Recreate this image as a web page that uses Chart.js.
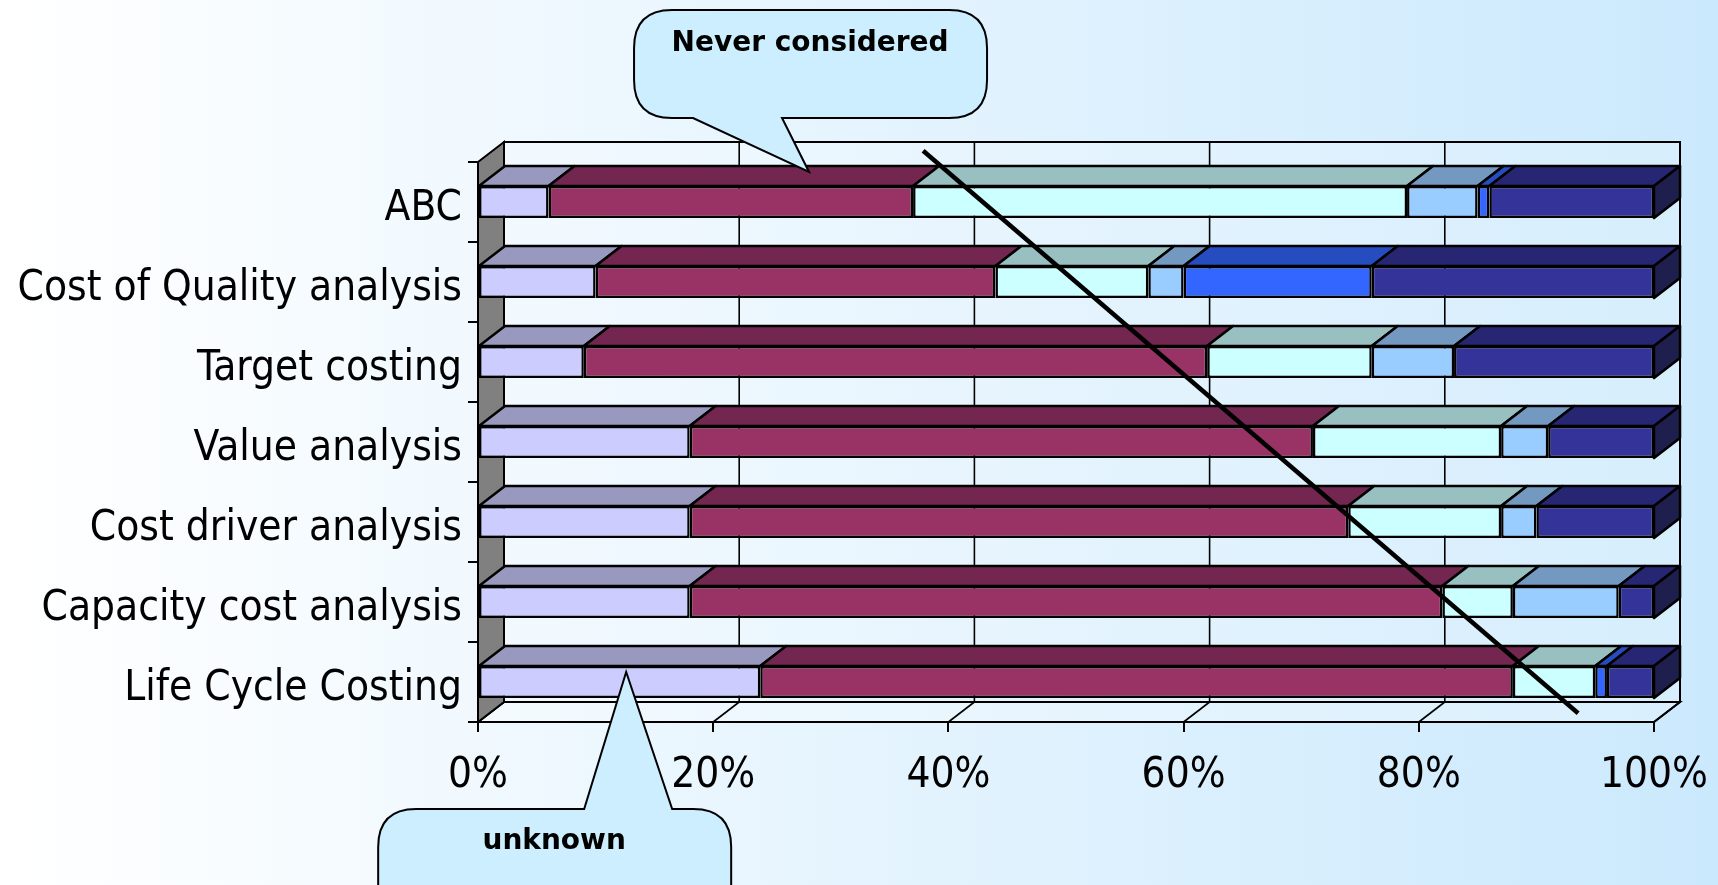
<!DOCTYPE html>
<html>
<head>
<meta charset="utf-8">
<script src="https://cdn.jsdelivr.net/npm/chart.js@4.4.0/dist/chart.umd.min.js"></script>
<style>
  html, body { margin: 0; padding: 0; overflow: hidden; }
  body { width: 1718px; height: 885px; background: linear-gradient(to right, #ffffff 0%, #cbe9fd 100%); }
  canvas { display: block; }
</style>
</head>
<body>
<canvas id="grafica" width="1718" height="885"></canvas>
<script>
  // Datos (porcentaje de empresas por método)
  const categorias = [
    "ABC",
    "Cost of Quality analysis",
    "Target costing",
    "Value analysis",
    "Cost driver analysis",
    "Capacity cost analysis",
    "Life Cycle Costing",
  ];
  const unknown = [6, 10, 9, 18, 18, 18, 24];
  const neverConsidered = [31, 34, 53, 53, 56, 64, 64];
  const serie3 = [42, 13, 14, 16, 13, 6, 7];
  const serie4 = [6, 3, 7, 4, 3, 9, 0];
  const serie5 = [1, 16, 0, 0, 0, 0, 1];
  const serie6 = [14, 24, 17, 9, 10, 3, 4];
  const marcasX = [0, 20, 40, 60, 80, 100];

  // línea diagonal (en valores de las escalas)
  const lineaTendencia = [
    { x: 37.85, y: -0.64 },
    { x: 93.55, y: 6.39 },
  ];

  const DX = 26, DY = 20;
  const fuente = "'DejaVu Sans Condensed', 'DejaVu Sans', sans-serif";

  // globos de texto
  const globos = [
    {
      texto: "Never considered",
      punta: { x: 28.15, y: -0.375 },
      caja: [-175, -162, 178, -54],
      cola: [-116, -27],
      colaArriba: false,
      txt: [1, -128],
    },
    {
      texto: "unknown",
      punta: { x: 12.6, y: 5.875 },
      caja: [-248, 137, 105, 260],
      cola: [-42, 46],
      colaArriba: true,
      txt: [-72, 170],
    },
  ];

  function poligono(ctx, pts, relleno) {
    ctx.beginPath();
    ctx.moveTo(pts[0][0], pts[0][1]);
    for (let i = 1; i < pts.length; i++) ctx.lineTo(pts[i][0], pts[i][1]);
    ctx.closePath();
    if (relleno) {
      ctx.fillStyle = relleno;
      ctx.fill();
    }
    ctx.stroke();
  }

  function linea(ctx, x1, y1, x2, y2) {
    ctx.beginPath();
    ctx.moveTo(x1, y1);
    ctx.lineTo(x2, y2);
    ctx.stroke();
  }

  function dibujarGlobo(ctx, g, tip) {
    const l = tip.x + g.caja[0], t = tip.y + g.caja[1];
    const r = tip.x + g.caja[2], b = tip.y + g.caja[3];
    const c1 = tip.x + g.cola[0], c2 = tip.x + g.cola[1];
    const rad = 38;
    ctx.beginPath();
    ctx.moveTo(l + rad, t);
    if (g.colaArriba) {
      ctx.lineTo(c1, t);
      ctx.lineTo(tip.x, tip.y);
      ctx.lineTo(c2, t);
    }
    ctx.lineTo(r - rad, t);
    ctx.quadraticCurveTo(r, t, r, t + rad);
    ctx.lineTo(r, b - rad);
    ctx.quadraticCurveTo(r, b, r - rad, b);
    if (!g.colaArriba) {
      ctx.lineTo(c2, b);
      ctx.lineTo(tip.x, tip.y);
      ctx.lineTo(c1, b);
    }
    ctx.lineTo(l + rad, b);
    ctx.quadraticCurveTo(l, b, l, b - rad);
    ctx.lineTo(l, t + rad);
    ctx.quadraticCurveTo(l, t, l + rad, t);
    ctx.closePath();
    ctx.fillStyle = "#cceeff";
    ctx.fill();
    ctx.lineWidth = 2;
    ctx.strokeStyle = "#000";
    ctx.stroke();

    ctx.fillStyle = "#000";
    ctx.font = "bold 28px 'DejaVu Sans', sans-serif";
    ctx.textAlign = "center";
    ctx.textBaseline = "middle";
    ctx.fillText(g.texto, tip.x + g.txt[0], tip.y + g.txt[1]);
  }

  // Plugin para el efecto 3D, la línea y los globos
  const efecto3D = {
    id: "efecto3D",
    beforeDatasetsDraw(chart) {
      const { ctx, chartArea: a, scales } = chart;
      const x = scales.x;
      ctx.save();
      ctx.strokeStyle = "#000";
      ctx.lineWidth = 2;
      // piso
      poligono(ctx, [
        [a.left, a.bottom],
        [a.left + DX, a.bottom - DY],
        [a.right + DX, a.bottom - DY],
        [a.right, a.bottom],
      ], "rgba(255,255,255,0.25)");
      // pared del fondo
      ctx.fillStyle = "rgba(255,255,255,0.2)";
      ctx.fillRect(a.left + DX, a.top - DY, a.width, a.height);
      ctx.strokeRect(a.left + DX, a.top - DY, a.width, a.height);
      // líneas de cuadrícula
      ctx.lineWidth = 1.6;
      x.ticks.forEach((t) => {
        const px = x.getPixelForValue(t.value);
        linea(ctx, px + DX, a.top - DY, px + DX, a.bottom - DY);
        linea(ctx, px, a.bottom, px + DX, a.bottom - DY);
      });
      // pared izquierda
      ctx.lineWidth = 2;
      poligono(ctx, [
        [a.left, a.top],
        [a.left + DX, a.top - DY],
        [a.left + DX, a.bottom - DY],
        [a.left, a.bottom],
      ], "#808080");
      ctx.restore();
    },
    afterDatasetsDraw(chart) {
      const { ctx } = chart;
      ctx.save();
      ctx.strokeStyle = "#000";
      ctx.lineWidth = 2.5;
      ctx.lineJoin = "round";
      for (let i = 0; i < chart.data.labels.length; i++) {
        let ultimo = null;
        chart.data.datasets.forEach((ds, d) => {
          const bar = chart.getDatasetMeta(d).data[i];
          const p = bar.getProps(["x", "y", "base", "height"], true);
          if (Math.abs(p.x - p.base) < 0.5) return;
          const top = p.y - p.height / 2;
          poligono(ctx, [
            [p.base, top],
            [p.base + DX, top - DY],
            [p.x + DX, top - DY],
            [p.x, top],
          ], ds.colorSuperior);
          ultimo = { x: p.x, top: top, bottom: p.y + p.height / 2, color: ds.colorLado };
        });
        if (ultimo) {
          poligono(ctx, [
            [ultimo.x, ultimo.top],
            [ultimo.x + DX, ultimo.top - DY],
            [ultimo.x + DX, ultimo.bottom - DY],
            [ultimo.x, ultimo.bottom],
          ], ultimo.color);
        }
      }
      ctx.restore();
    },
    afterDraw(chart) {
      const { ctx, scales } = chart;
      ctx.save();
      // línea diagonal
      ctx.strokeStyle = "#000";
      ctx.lineWidth = 4.5;
      ctx.beginPath();
      lineaTendencia.forEach((pt, k) => {
        const px = scales.x.getPixelForValue(pt.x);
        const py = scales.y.getPixelForValue(pt.y);
        if (k === 0) ctx.moveTo(px, py);
        else ctx.lineTo(px, py);
      });
      ctx.stroke();
      // globos
      globos.forEach((g) => {
        const tip = {
          x: scales.x.getPixelForValue(g.punta.x),
          y: scales.y.getPixelForValue(g.punta.y),
        };
        dibujarGlobo(ctx, g, tip);
      });
      ctx.restore();
    },
  };

  function serie(label, data, frente, superior, lado) {
    return {
      label: label,
      data: data,
      backgroundColor: frente,
      borderColor: "#000",
      borderWidth: 2.5,
      borderSkipped: false,
      colorSuperior: superior,
      colorLado: lado,
      categoryPercentage: 1,
      barPercentage: 0.4,
    };
  }

  const ctx = document.getElementById("grafica").getContext("2d");
  new Chart(ctx, {
    type: "bar",
    data: {
      labels: categorias,
      datasets: [
        serie("unknown", unknown, "#ccccff", "#9999c0", "#777799"),
        serie("Never considered", neverConsidered, "#993366", "#73264f", "#4d1a35"),
        serie("Serie 3", serie3, "#ccffff", "#99c0c0", "#668080"),
        serie("Serie 4", serie4, "#99ccff", "#7399c0", "#4d6680"),
        serie("Serie 5", serie5, "#3366ff", "#264dc0", "#1a3380"),
        serie("Serie 6", serie6, "#333399", "#262673", "#1f1f4d"),
      ],
    },
    options: {
      indexAxis: "y",
      responsive: false,
      animation: false,
      layout: { padding: { top: 162, right: 64, left: 0, bottom: 0 } },
      plugins: {
        legend: { display: false },
        tooltip: { enabled: false },
        title: { display: false },
      },
      scales: {
        x: {
          stacked: true,
          min: 0,
          max: 100,
          afterBuildTicks: (scale) => {
            scale.ticks = marcasX.map((v) => ({ value: v }));
          },
          grid: { drawOnChartArea: false, tickLength: 10, color: "#000", lineWidth: 2 },
          border: { display: true, color: "#000", width: 2 },
          ticks: {
            callback: (v) => v + "%",
            color: "#000",
            font: { family: fuente, size: 42 },
            padding: 19,
            maxRotation: 0,
          },
          afterFit: (scale) => {
            scale.height = 163;
            scale.paddingLeft = 0;
            scale.paddingRight = 0;
          },
        },
        y: {
          stacked: true,
          grid: { drawOnChartArea: false, tickLength: 10, color: "#000", lineWidth: 2, offset: true },
          border: { display: true, color: "#000", width: 2 },
          ticks: {
            color: "#000",
            font: { family: fuente, size: 42 },
            padding: 6,
            labelOffset: 7,
            autoSkip: false,
          },
          afterFit: (scale) => {
            scale.width = 478;
            scale.paddingTop = 0;
            scale.paddingBottom = 0;
          },
        },
      },
    },
    plugins: [efecto3D],
  });
</script>
</body>
</html>
